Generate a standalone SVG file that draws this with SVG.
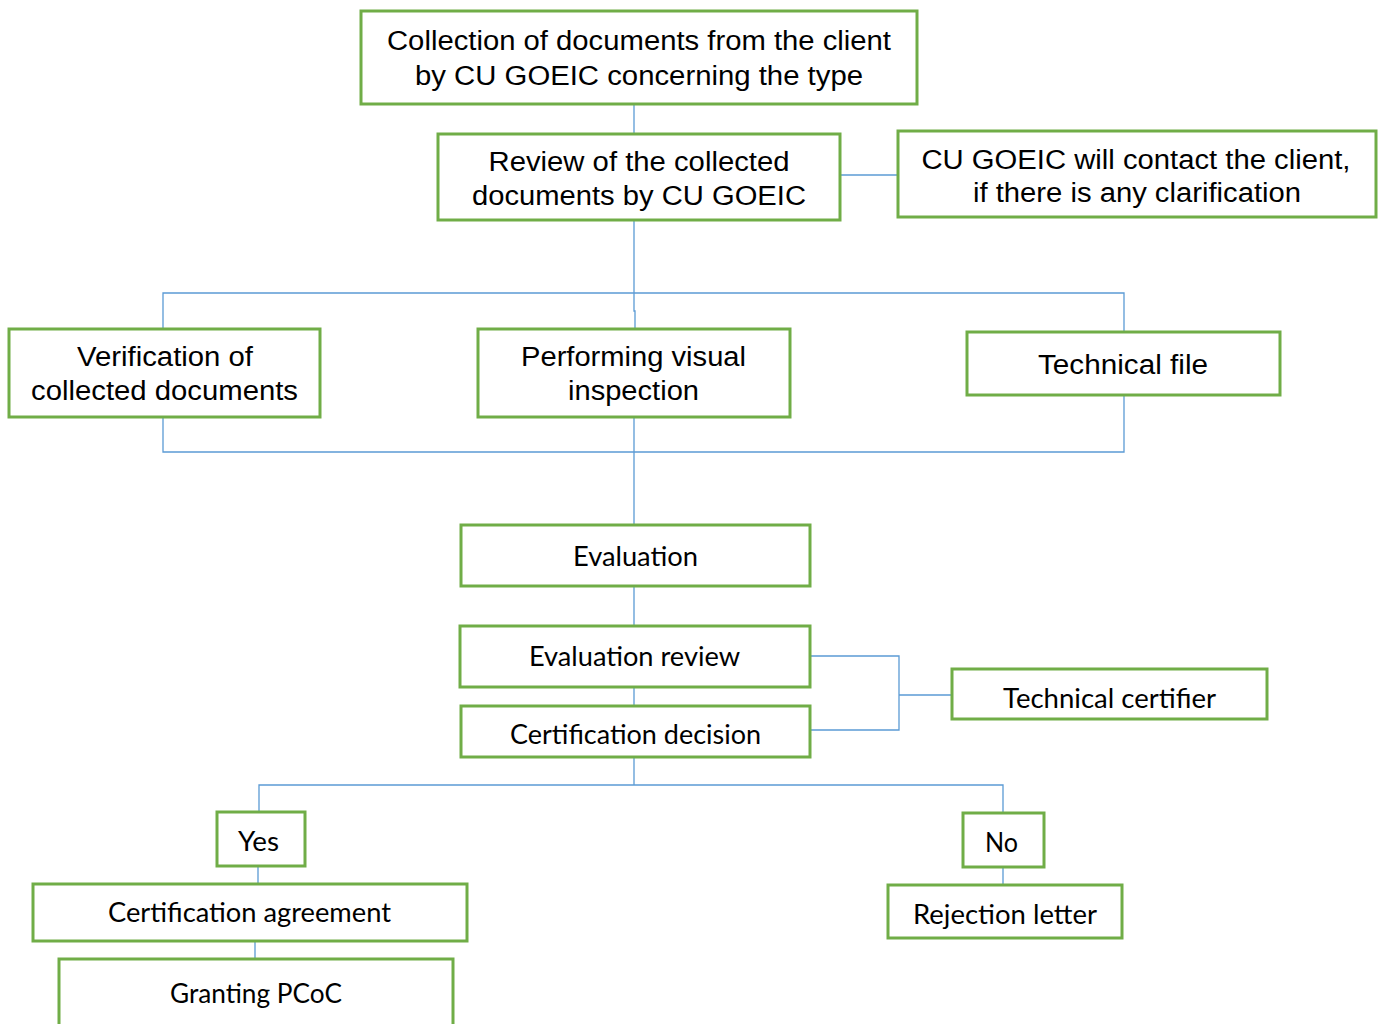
<svg xmlns="http://www.w3.org/2000/svg" width="1379" height="1024" viewBox="0 0 1379 1024">
<style>
.box{fill:#fff;stroke:#70AD47;stroke-width:3}
.a{font-family:"Liberation Sans",Arial,sans-serif;font-size:27px;fill:#000;text-anchor:middle}
.c{font-family:Lato,"Open Sans",sans-serif;font-size:26px;fill:#000;text-anchor:middle}
.ln{fill:none;stroke:#5B9BD5;stroke-width:1.3}
</style>
<rect width="1379" height="1024" fill="#fff"/>
<g id="connectors">
<path class="ln" d="M634 104V134"/>
<path class="ln" d="M840 175H898"/>
<path class="ln" d="M634 220V311H635V329M163 329V293H1124V332"/>
<path class="ln" d="M163 417V452H1124V395M634 417V525"/>
<path class="ln" d="M634 586V626M634 687V706"/>
<path class="ln" d="M810 656H899V730H810M899 695H952"/>
<path class="ln" d="M634 757V785M259 812V785H1003V813"/>
<path class="ln" d="M258 866V884M255 941V959M1003 867V885"/>
</g>
<g id="n1"><rect class="box" x="361" y="11" width="556" height="93"/>
<text class="a" x="639" y="50" textLength="504" lengthAdjust="spacingAndGlyphs">Collection of documents from the client</text>
<text class="a" x="639" y="85" textLength="448" lengthAdjust="spacingAndGlyphs">by CU GOEIC concerning the type</text></g>
<g id="n2"><rect class="box" x="438" y="134" width="402" height="86"/>
<text class="a" x="639" y="171" textLength="301" lengthAdjust="spacingAndGlyphs">Review of the collected</text>
<text class="a" x="639" y="205" textLength="334" lengthAdjust="spacingAndGlyphs">documents by CU GOEIC</text></g>
<g id="n3"><rect class="box" x="898" y="131" width="478" height="86"/>
<text class="a" x="1136" y="169" textLength="429" lengthAdjust="spacingAndGlyphs">CU GOEIC will contact the client,</text>
<text class="a" x="1137" y="202" textLength="328" lengthAdjust="spacingAndGlyphs">if there is any clarification</text></g>
<g id="n4"><rect class="box" x="9" y="329" width="311" height="88"/>
<text class="a" x="165" y="366" textLength="176" lengthAdjust="spacingAndGlyphs">Verification of</text>
<text class="a" x="164.5" y="400" textLength="267" lengthAdjust="spacingAndGlyphs">collected documents</text></g>
<g id="n5"><rect class="box" x="478" y="329" width="312" height="88"/>
<text class="a" x="633.5" y="366" textLength="225" lengthAdjust="spacingAndGlyphs">Performing visual</text>
<text class="a" x="633.5" y="400" textLength="131" lengthAdjust="spacingAndGlyphs">inspection</text></g>
<g id="n6"><rect class="box" x="967" y="332" width="313" height="63"/>
<text class="a" x="1123" y="374" textLength="170" lengthAdjust="spacingAndGlyphs">Technical file</text></g>
<g id="n7"><rect class="box" x="461" y="525" width="349" height="61"/>
<text class="c" x="635.5" y="566" textLength="125" lengthAdjust="spacingAndGlyphs">Evaluation</text></g>
<g id="n8"><rect class="box" x="460" y="626" width="350" height="61"/>
<text class="c" x="634.5" y="666" textLength="211" lengthAdjust="spacingAndGlyphs">Evaluation review</text></g>
<g id="n9"><rect class="box" x="461" y="706" width="349" height="51"/>
<text class="c" x="635.5" y="744" textLength="251" lengthAdjust="spacingAndGlyphs">Certification decision</text></g>
<g id="n10"><rect class="box" x="952" y="669" width="315" height="50"/>
<text class="c" x="1109.5" y="708" textLength="213" lengthAdjust="spacingAndGlyphs">Technical certifier</text></g>
<g id="n11"><rect class="box" x="217" y="812" width="88" height="54"/>
<text class="c" x="258.5" y="851" textLength="41" lengthAdjust="spacingAndGlyphs">Yes</text></g>
<g id="n12"><rect class="box" x="963" y="813" width="81" height="54"/>
<text class="c" x="1001.5" y="852" textLength="33" lengthAdjust="spacingAndGlyphs">No</text></g>
<g id="n13"><rect class="box" x="33" y="884" width="434" height="57"/>
<text class="c" x="249.5" y="922" textLength="283" lengthAdjust="spacingAndGlyphs">Certification agreement</text></g>
<g id="n14"><rect class="box" x="888" y="885" width="234" height="53"/>
<text class="c" x="1005" y="924" textLength="184" lengthAdjust="spacingAndGlyphs">Rejection letter</text></g>
<g id="n15"><rect class="box" x="59" y="959" width="394" height="80"/>
<text class="c" x="256" y="1003" textLength="172" lengthAdjust="spacingAndGlyphs">Granting PCoC</text></g>
</svg>
